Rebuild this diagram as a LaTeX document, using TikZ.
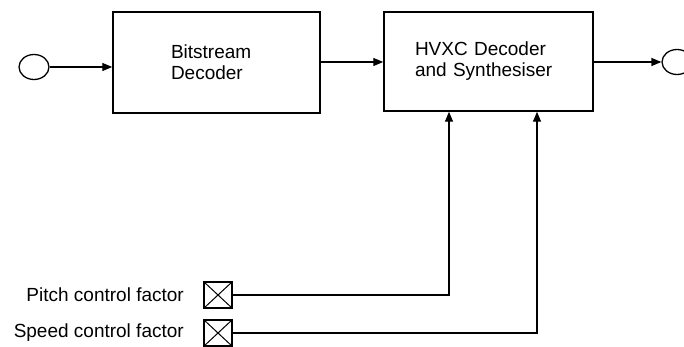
\documentclass[tikz,border=0pt]{standalone}
\usepackage{fontspec}
\setmainfont{Liberation Sans}
\usetikzlibrary{arrows.meta,shapes.geometric}

\tikzset{
  block/.style={draw, line width=1.5pt, rectangle, align=left,
    font=\fontsize{19}{21}\selectfont, inner ysep=0pt},
  port/.style={draw, line width=1.3pt, ellipse, minimum width=30pt, minimum height=25pt, inner sep=0pt},
  xbox/.style={draw, line width=1.3pt, rectangle, minimum width=28pt, minimum height=26pt, inner sep=0pt},
  sig/.style={line width=1.3pt, -{Triangle[length=10pt,width=8pt]}},
  wire/.style={line width=1.3pt},
  lbl/.style={font=\fontsize{19}{21}\selectfont, inner sep=0pt},
}

\begin{document}
\begin{tikzpicture}[x=1pt, y=-1pt]
  \useasboundingbox (0,0) rectangle (684,347);
  \clip (0,0) rectangle (684,347);

  % processing blocks
  \node[block, minimum width=207pt, minimum height=101pt, inner xsep=58pt, text width=91pt]
    (bsd) at (216.5,62.5) {Bitstream\\Decoder};
  \node[block, minimum width=209pt, minimum height=99pt, inner xsep=31pt, text width=147pt]
    (hvxc) at (488.5,61.5) {HVXC Decoder\\and Synthesiser};

  % input and output terminals
  \node[port] (in) at (34,67) {};
  \node[port] (out) at (677,62) {};

  % control inputs
  \node[xbox] (pitch) at (218,295) {};
  \node[xbox] (speed) at (218,333) {};
  \foreach \b in {pitch,speed} {
    \draw[line width=1pt] (\b.north west) -- (\b.south east);
    \draw[line width=1pt] (\b.south west) -- (\b.north east);
  }
  \node[lbl, anchor=east] (pitchlbl) at (184,295) {Pitch control factor};
  \node[lbl, anchor=east] (speedlbl) at (184,333) {Speed control factor};

  % bend points of the control lines
  \coordinate (pc) at (449,295);
  \coordinate (sc) at (537,333);

  % signal flow
  \draw[sig] (in.east) -- (in.east -| bsd.west);
  \draw[sig] (bsd.east |- 0,62) -- (hvxc.west |- 0,62);
  \draw[sig] (hvxc.east |- out.west) -- (out.west);
  \draw[sig] (pitch.east) -- (pc) -- (pc |- hvxc.south);
  \draw[sig] (speed.east) -- (sc) -- (sc |- hvxc.south);
\end{tikzpicture}
\end{document}
